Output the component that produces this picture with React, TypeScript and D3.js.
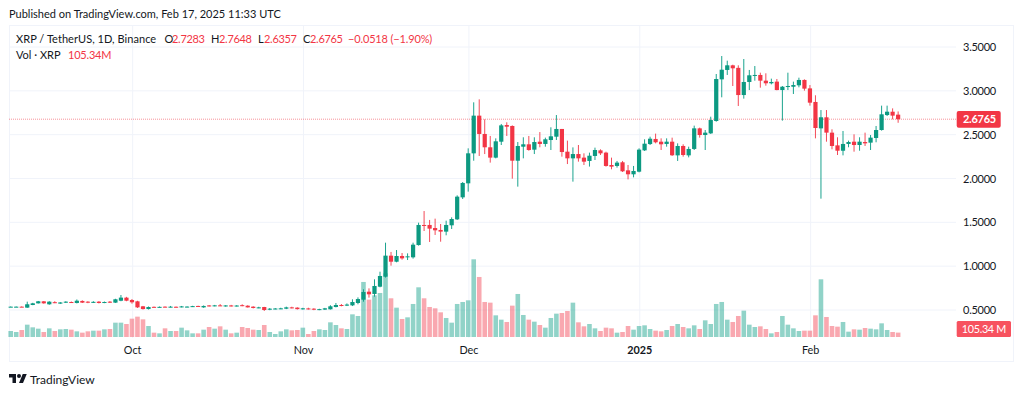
import React from "react";
import * as d3 from "d3";

const FONT = "Lato, 'Noto Sans', sans-serif";
const UP = "#089981";
const DOWN = "#f23645";
const INK = "#131722";

const firstDay = new Date(Date.UTC(2024, 8, 9));
const opens = [
  .536,.537,.538,.527,.557,.576,.599,.565,.589,.573,
  .584,.591,.580,.603,.595,.586,.595,.584,.595,.584,
  .606,.641,.614,.599,.542,.511,.536,.532,.538,.532,
  .537,.536,.536,.540,.546,.530,.552,.547,.553,.544,
  .552,.543,.555,.549,.538,.524,.534,.504,.512,.515,
  .515,.530,.527,.512,.518,.515,.504,.505,.508,.534,
  .557,.550,.553,.580,.618,.709,.683,.766,.880,1.120,
  1.051,1.116,1.101,1.101,1.241,1.470,1.470,1.435,1.413,1.394,
  1.466,1.534,1.785,1.945,2.287,2.717,2.508,2.356,2.238,2.420,
  2.610,2.599,2.203,2.363,2.390,2.329,2.420,2.394,2.439,2.477,
  2.565,2.306,2.230,2.279,2.238,2.200,2.257,2.321,2.295,2.154,
  2.143,2.185,2.093,2.048,2.078,2.321,2.393,2.451,2.420,2.394,
  2.420,2.264,2.371,2.264,2.337,2.572,2.496,2.515,2.656,3.131,
  3.238,3.291,3.262,2.952,3.101,3.177,3.181,3.116,3.086,3.105,
  3.009,3.047,3.047,3.063,3.124,3.028,2.873,2.572,2.698,2.523,
  2.378,2.317,2.394,2.420,2.382,2.416,2.409,2.462,2.553,2.724,
  2.762,2.7283,
];
const highs = [
  .540,.541,.541,.595,.582,.603,.602,.600,.600,.590,
  .600,.597,.620,.610,.600,.600,.601,.597,.602,.628,
  .671,.650,.625,.605,.546,.540,.540,.540,.541,.546,
  .540,.546,.541,.548,.549,.552,.556,.558,.568,.555,
  .558,.555,.565,.554,.543,.537,.536,.522,.522,.526,
  .538,.537,.531,.525,.526,.520,.514,.524,.555,.580,
  .568,.575,.622,.644,.736,.747,.850,.937,1.268,1.162,
  1.184,1.150,1.146,1.268,1.496,1.629,1.527,1.542,1.481,1.519,
  1.557,1.808,1.960,2.344,2.869,2.903,2.675,2.485,2.458,2.622,
  2.641,2.606,2.416,2.470,2.485,2.470,2.530,2.466,2.584,2.724,
  2.565,2.432,2.355,2.382,2.287,2.295,2.352,2.333,2.306,2.238,
  2.200,2.200,2.154,2.143,2.344,2.447,2.477,2.512,2.458,2.458,
  2.466,2.401,2.390,2.363,2.603,2.580,2.553,2.705,3.192,3.397,
  3.344,3.298,3.291,3.363,3.238,3.283,3.207,3.200,3.139,3.135,
  3.055,3.207,3.105,3.150,3.131,3.066,2.949,2.781,2.781,2.561,
  2.470,2.542,2.432,2.504,2.470,2.523,2.496,2.599,2.831,2.831,
  2.800,2.7648,
];
const lows = [
  .534,.535,.533,.525,.555,.574,.572,.560,.578,.570,
  .580,.583,.575,.580,.578,.582,.575,.578,.580,.580,
  .600,.600,.572,.523,.505,.506,.530,.530,.530,.530,
  .529,.530,.531,.535,.538,.525,.540,.542,.545,.538,
  .540,.540,.543,.528,.518,.520,.489,.498,.508,.510,
  .510,.518,.505,.505,.505,.498,.498,.500,.505,.530,
  .542,.545,.545,.565,.595,.641,.652,.759,.870,1.006,
  1.044,1.074,1.070,1.086,1.234,1.401,1.276,1.356,1.279,1.352,
  1.424,1.527,1.766,1.850,2.203,2.257,2.279,2.181,2.230,2.382,
  2.485,1.998,1.907,2.230,2.317,2.279,2.356,2.363,2.325,2.439,
  2.249,2.165,1.964,2.192,2.154,2.136,2.211,2.268,2.135,2.105,
  2.124,2.074,1.990,2.013,2.070,2.314,2.382,2.401,2.325,2.363,
  2.257,2.200,2.249,2.241,2.325,2.466,2.325,2.508,2.648,2.926,
  3.181,3.055,2.827,2.911,3.009,3.116,3.036,3.059,3.074,3.006,
  2.660,3.009,2.964,3.040,3.002,2.831,2.458,1.770,2.420,2.333,
  2.268,2.264,2.356,2.306,2.317,2.371,2.325,2.413,2.546,2.713,
  2.675,2.6357,
];
const closes = [
  .538,.538,.535,.565,.576,.599,.576,.595,.583,.586,
  .595,.586,.606,.584,.584,.593,.580,.591,.586,.622,
  .641,.606,.588,.530,.511,.534,.532,.536,.533,.538,
  .533,.541,.539,.544,.541,.546,.545,.553,.546,.552,
  .543,.551,.546,.530,.523,.530,.500,.515,.517,.519,
  .530,.523,.510,.519,.512,.504,.510,.519,.542,.557,
  .550,.562,.591,.625,.705,.679,.774,.888,1.120,1.051,
  1.116,1.089,1.112,1.245,1.470,1.462,1.428,1.409,1.394,1.470,
  1.538,1.793,1.949,2.287,2.717,2.508,2.356,2.238,2.424,2.606,
  2.591,2.203,2.371,2.390,2.325,2.416,2.394,2.447,2.481,2.565,
  2.302,2.230,2.279,2.230,2.192,2.260,2.325,2.287,2.143,2.135,
  2.181,2.082,2.048,2.086,2.329,2.397,2.454,2.413,2.390,2.420,
  2.265,2.371,2.268,2.337,2.572,2.496,2.523,2.667,3.135,3.241,
  3.291,3.257,2.952,3.101,3.177,3.181,3.116,3.086,3.101,3.009,
  3.047,3.055,3.066,3.124,3.025,2.865,2.576,2.698,2.523,2.371,
  2.317,2.394,2.416,2.382,2.420,2.401,2.466,2.553,2.732,2.762,
  2.717,2.6765,
];
const volumes = [
  144,120,168,296,232,200,120,208,144,184,
  192,176,136,104,136,152,152,184,192,344,
  344,312,440,488,424,264,104,88,208,144,
  144,224,160,88,88,176,240,200,256,176,
  88,104,240,216,176,168,288,120,72,136,
  184,160,168,224,72,144,184,168,352,288,
  208,192,544,504,1320,896,1000,1056,1528,928,
  704,432,472,792,1192,928,720,688,592,456,
  344,792,840,880,1864,1440,840,824,520,416,
  360,752,1032,528,416,368,288,224,456,560,
  576,624,824,352,256,312,208,144,224,208,
  104,120,264,176,264,280,192,152,136,168,
  264,312,240,208,280,192,400,312,792,840,
  416,360,504,632,296,240,256,192,88,120,
  504,296,208,144,152,152,520,1384,480,264,
  248,360,128,184,176,216,200,184,328,168,
  120,105.34,
];

const priceTicks = [0.5, 1, 1.5, 2, 2.5, 3, 3.5];
const monthTicks = [
  { label: "Oct", date: new Date(Date.UTC(2024, 9, 1)), strong: false },
  { label: "Nov", date: new Date(Date.UTC(2024, 10, 1)), strong: false },
  { label: "Dec", date: new Date(Date.UTC(2024, 11, 1)), strong: false },
  { label: "2025", date: new Date(Date.UTC(2025, 0, 1)), strong: true },
  { label: "Feb", date: new Date(Date.UTC(2025, 1, 1)), strong: false },
];
const lastPrice = 2.6765;
const legendValues = [
  { key: "O", value: "2.7283", keyX: 164.5, valueX: 172 },
  { key: "H", value: "2.7648", keyX: 211, valueX: 219 },
  { key: "L", value: "2.6357", keyX: 258, valueX: 264 },
  { key: "C", value: "2.6765", keyX: 303, valueX: 310 },
];

const W = 1024, H = 395;
const frame = { left: 9, top: 25, right: 1014, bottom: 362, plotRight: 956, volBase: 337 };

export default function App() {
  const dates = opens.map((_, i) => d3.utcDay.offset(firstDay, i));
  const x = d3.scaleUtc()
    .domain([firstDay, dates[dates.length - 1]])
    .range([10.7, 10.7 + 5.512 * (opens.length - 1)]);
  const y = d3.scaleLinear().domain([0.5, 3.5]).range([310, 47]);
  const v = d3.scaleLinear().domain([0, 1864]).range([frame.volBase, 259.3]);
  const grid = "#f0f3fa";

  return (
    <svg width={W} height={H} viewBox={`0 0 ${W} ${H}`} fontFamily={FONT}
      style={{ position: "absolute", left: 0, top: 0, background: "#fff" }}>
      <defs>
        <filter id="soft" x="-2%" y="-2%" width="104%" height="104%">
          <feGaussianBlur stdDeviation="0.3" />
        </filter>
      </defs>
      <text x={9} y={18} fontSize={11} fill={INK}>Published on TradingView.com, Feb 17, 2025 11:33 UTC</text>

      <rect x={frame.left + 0.5} y={frame.top + 0.5} width={frame.right - frame.left - 1} height={frame.bottom - frame.top - 1}
        fill="#fff" stroke={grid} />

      {priceTicks.map(t => (
        <line key={t} x1={frame.left} x2={frame.plotRight} y1={y(t)} y2={y(t)} stroke={grid} />
      ))}
      {monthTicks.map(t => (
        <line key={t.label} x1={x(t.date) + 0.7} x2={x(t.date) + 0.7} y1={frame.top} y2={frame.volBase + 1} stroke={grid} />
      ))}

      <line x1={frame.left} x2={frame.plotRight} y1={y(lastPrice)} y2={y(lastPrice)}
        stroke={DOWN} strokeOpacity={0.55} strokeDasharray="1 1" />

      <g filter="url(#soft)">
        {volumes.map((val, i) => (
          <rect key={i} x={x(dates[i]) - 2.3} width={4.6} y={v(val)} height={frame.volBase - v(val)}
            fill={closes[i] >= opens[i] ? UP : DOWN} fillOpacity={0.43} />
        ))}

        {opens.map((o, i) => {
          const c = closes[i];
          const col = c >= o ? UP : DOWN;
          const cx = x(dates[i]);
          const top = y(Math.max(o, c));
          const bot = y(Math.min(o, c));
          return (
            <g key={i}>
              <line x1={cx} x2={cx} y1={y(highs[i])} y2={y(lows[i])} stroke={col} strokeWidth={0.9} />
              <rect x={cx - 2.1} width={4.2} y={top} height={Math.max(bot - top, 1)} fill={col} />
            </g>
          );
        })}
      </g>

      <g fontSize={11} fill={INK}>
        <text x={16} y={43} letterSpacing={0.05}>XRP / TetherUS, 1D, Binance</text>
        {legendValues.map(l => (
          <g key={l.key}>
            <text x={l.keyX} y={43}>{l.key}</text>
            <text x={l.valueX} y={43} fill={DOWN} letterSpacing={-0.3}>{l.value}</text>
          </g>
        ))}
        <text x={348} y={43} fill={DOWN} letterSpacing={-0.15}>−0.0518 (−1.90%)</text>
        <text x={16} y={59}>Vol · XRP</text>
        <text x={68} y={59} fill={DOWN} letterSpacing={-0.2}>105.34M</text>
      </g>

      {priceTicks.map(t => (
        <text key={t} x={996} y={y(t) + 4} textAnchor="end" fontSize={11} letterSpacing={-0.25} fill={INK}>{t.toFixed(4)}</text>
      ))}
      <rect x={956.7} y={111} width={44} height={16.7} rx={2} fill={DOWN} />
      <text x={996} y={123.3} textAnchor="end" fontSize={11} letterSpacing={-0.25} fontWeight={700} fill="#fff">{lastPrice.toFixed(4)}</text>
      <rect x={956.7} y={321} width={54.3} height={16} rx={1.5} fill="#f7525f" />
      <text x={1006} y={333} textAnchor="end" fontSize={10.8} letterSpacing={-0.3} fontWeight={400} fill="#fff">105.34 M</text>

      {monthTicks.map(t => (
        <text key={t.label} x={x(t.date) + 0.7} y={354} textAnchor="middle" fontSize={10.8}
          fontWeight={t.strong ? 700 : 400} fill={INK}>{t.label}</text>
      ))}

      <g transform="translate(9,372) scale(0.5)" fill={INK}>
        <path d="M14 22H7V11H0V4h14v18zM28 22h-8l7.5-18h8L28 22z" />
        <circle cx={20} cy={8} r={4} />
      </g>
      <text x={30} y={383.5} fontSize={12} fill={INK}>TradingView</text>
    </svg>
  );
}
